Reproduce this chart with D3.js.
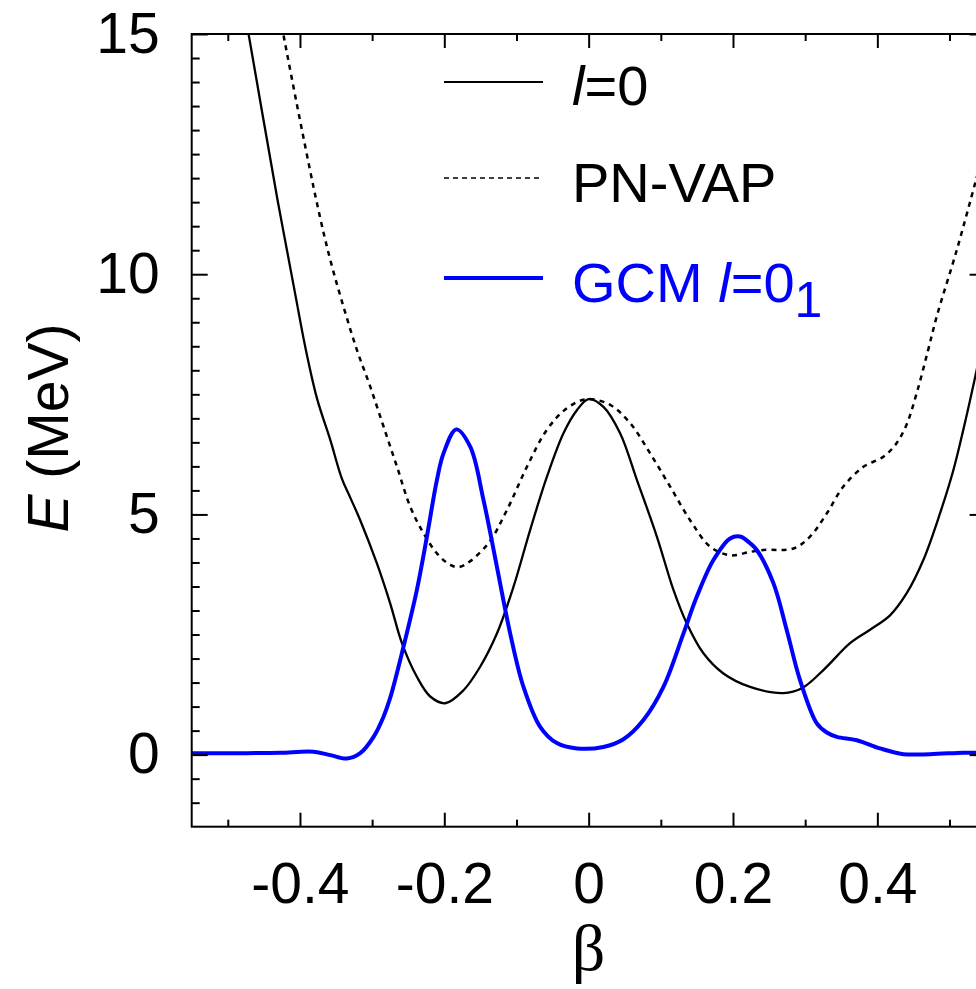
<!DOCTYPE html>
<html>
<head>
<meta charset="utf-8">
<script src="https://cdn.jsdelivr.net/npm/d3@7"></script>
<style>
  html, body { margin: 0; padding: 0; background: #fff; overflow: hidden; }
  svg { display: block; }
</style>
</head>
<body>
<svg id="chart" width="976" height="989"></svg>
<script>
// ---- data (beta, E in MeV) ----
const betaL0 = [-0.49, -0.4712, -0.431, -0.418, -0.405, -0.3927, -0.3765, -0.358, -0.3418, -0.3303, -0.3165, -0.2934, -0.275, -0.2587, -0.238, -0.2195, -0.1988, -0.1734, -0.1503, -0.1271, -0.1042, -0.081, -0.0579, -0.0349, -0.0163, 0, 0.0205, 0.0436, 0.0668, 0.0945, 0.1175, 0.136, 0.159, 0.1867, 0.2237, 0.27, 0.2953, 0.3252, 0.3622, 0.3899, 0.4176, 0.4407, 0.4637, 0.4868, 0.5053, 0.5191, 0.5367, 0.55];
const energyL0 = [16.6, 15.0, 11.54, 10.5, 9.46, 8.49, 7.42, 6.55, 5.74, 5.35, 4.88, 3.98, 3.15, 2.32, 1.62, 1.21, 1.07, 1.34, 1.83, 2.52, 3.49, 4.68, 5.78, 6.69, 7.17, 7.4, 7.24, 6.69, 5.72, 4.54, 3.43, 2.73, 2.11, 1.69, 1.41, 1.28, 1.38, 1.76, 2.32, 2.6, 2.9, 3.36, 4.05, 5.02, 5.92, 6.76, 7.94, 8.9];

const betaVAP = [-0.44, -0.4231, -0.3765, -0.358, -0.3396, -0.321, -0.3026, -0.2842, -0.2657, -0.2472, -0.2288, -0.2102, -0.1918, -0.178, -0.141, -0.1133, -0.0856, -0.0579, -0.0302, -0.0025, 0.0298, 0.0575, 0.0852, 0.1129, 0.1406, 0.1683, 0.196, 0.2237, 0.2421, 0.2837, 0.3068, 0.3299, 0.3529, 0.3806, 0.4083, 0.425, 0.44, 0.455, 0.47, 0.4823, 0.51, 0.5367, 0.55];
const energyVAP = [16.4, 15.0, 11.48, 10.3, 9.32, 8.42, 7.66, 6.83, 6.0, 5.16, 4.61, 4.19, 3.95, 3.91, 4.36, 5.09, 5.99, 6.76, 7.21, 7.4, 7.28, 6.9, 6.27, 5.58, 4.88, 4.33, 4.15, 4.22, 4.26, 4.29, 4.54, 5.02, 5.58, 5.99, 6.2, 6.45, 6.85, 7.55, 8.4, 9.12, 10.5, 11.96, 12.7];

const betaGCM = [-0.55, -0.4734, -0.4273, -0.3812, -0.358, -0.3349, -0.3165, -0.298, -0.2842, -0.275, -0.2565, -0.238, -0.2241, -0.2102, -0.2011, -0.1835, -0.1641, -0.1457, -0.1271, -0.1087, -0.0903, -0.0672, -0.044, -0.0163, 0.0205, 0.0482, 0.0759, 0.1036, 0.1313, 0.1499, 0.1729, 0.196, 0.2098, 0.2237, 0.233, 0.256, 0.2745, 0.2929, 0.3161, 0.33, 0.3438, 0.3715, 0.4037, 0.436, 0.473, 0.5191, 0.5367, 0.55];
const energyGCM = [0.03, 0.03, 0.04, 0.06, -0.01, -0.08, 0.03, 0.37, 0.79, 1.18, 2.25, 3.43, 4.54, 5.72, 6.27, 6.77, 6.41, 5.3, 3.91, 2.52, 1.41, 0.58, 0.24, 0.13, 0.16, 0.32, 0.72, 1.41, 2.52, 3.29, 4.05, 4.5, 4.54, 4.4, 4.26, 3.57, 2.59, 1.55, 0.65, 0.46, 0.37, 0.3, 0.13, 0.01, 0.01, 0.04, 0.04, 0.04];

const xMajorTicks = [-0.4, -0.2, 0, 0.2, 0.4];
const xMinorTicks = [-0.5, -0.3, -0.1, 0.1, 0.3, 0.5];
const yMajorTicks = [0, 5, 10, 15];
const yMinorTicks = [-1, -0.5, 0.5, 1, 1.5, 2, 2.5, 3, 3.5, 4, 4.5, 5.5, 6, 6.5, 7, 7.5, 8, 8.5, 9, 9.5, 10.5, 11, 11.5, 12, 12.5, 13, 13.5, 14, 14.5];
const xTickLabels = ["-0.4", "-0.2", "0", "0.2", "0.4"];
const yTickLabels = ["0", "5", "10", "15"];

// ---- layout ----
const svg = d3.select("#chart");
const L = 191.7, R = 985.6, T = 34, B = 826.7;
const x = d3.scaleLinear().domain([-0.55, 0.55]).range([L, R]);
const y = d3.scaleLinear().domain([-1.5, 15]).range([B, T]);
const FONT = "'Liberation Sans', Arial, Helvetica, sans-serif";
const FS = 57;

svg.append("defs").append("clipPath").attr("id", "plotclip")
  .append("rect").attr("x", L).attr("y", T).attr("width", R - L).attr("height", B - T);

// curves
const line = d3.line().x(d => x(d[0])).y(d => y(d[1])).curve(d3.curveCatmullRom.alpha(0.5));
const plot = svg.append("g").attr("clip-path", "url(#plotclip)");
plot.append("path").datum(d3.zip(betaVAP, energyVAP))
  .attr("d", line).attr("fill", "none").attr("stroke", "#000")
  .attr("stroke-width", 2.5).attr("stroke-dasharray", "5,5");
plot.append("path").datum(d3.zip(betaL0, energyL0))
  .attr("d", line).attr("fill", "none").attr("stroke", "#000").attr("stroke-width", 2.3);
plot.append("path").datum(d3.zip(betaGCM, energyGCM))
  .attr("d", line).attr("fill", "none").attr("stroke", "#0000ff").attr("stroke-width", 4);

// axes: ticks inward on all 4 sides
function styleAxis(g) {
  g.select(".domain").remove();
  g.selectAll(".tick line").attr("stroke", "#000").attr("stroke-width", 2);
  g.selectAll("text").attr("font-family", FONT).attr("font-size", FS).attr("fill", "#000");
}
const xi = (v) => xTickLabels[xMajorTicks.indexOf(v)];
const yi = (v) => yTickLabels[yMajorTicks.indexOf(v)];

svg.append("g").attr("transform", `translate(0,${B})`)
  .call(d3.axisBottom(x).tickValues(xMajorTicks).tickSize(-14).tickSizeOuter(0).tickPadding(36).tickFormat(xi))
  .call(styleAxis);
svg.append("g").attr("transform", `translate(0,${B})`)
  .call(d3.axisBottom(x).tickValues(xMinorTicks).tickSize(-7).tickSizeOuter(0).tickFormat(""))
  .call(styleAxis);
svg.append("g").attr("transform", `translate(0,${T})`)
  .call(d3.axisTop(x).tickValues(xMajorTicks).tickSize(-14).tickSizeOuter(0).tickFormat(""))
  .call(styleAxis);
svg.append("g").attr("transform", `translate(0,${T})`)
  .call(d3.axisTop(x).tickValues(xMinorTicks).tickSize(-7).tickSizeOuter(0).tickFormat(""))
  .call(styleAxis);

svg.append("g").attr("transform", `translate(${L},0)`)
  .call(d3.axisLeft(y).tickValues(yMajorTicks).tickSize(-16).tickSizeOuter(0).tickPadding(32).tickFormat(yi))
  .call(styleAxis);
svg.append("g").attr("transform", `translate(${L},0)`)
  .call(d3.axisLeft(y).tickValues(yMinorTicks).tickSize(-8).tickSizeOuter(0).tickFormat(""))
  .call(styleAxis);
svg.append("g").attr("transform", `translate(${R},0)`)
  .call(d3.axisRight(y).tickValues(yMajorTicks).tickSize(-16).tickSizeOuter(0).tickFormat(""))
  .call(styleAxis);
svg.append("g").attr("transform", `translate(${R},0)`)
  .call(d3.axisRight(y).tickValues(yMinorTicks).tickSize(-8).tickSizeOuter(0).tickFormat(""))
  .call(styleAxis);

// frame
svg.append("rect").attr("x", L).attr("y", T).attr("width", R - L).attr("height", B - T)
  .attr("fill", "none").attr("stroke", "#000").attr("stroke-width", 2);

// axis titles
const yl = svg.append("text").attr("transform", "translate(68,428) rotate(-90)")
  .attr("text-anchor", "middle").attr("font-family", FONT).attr("font-size", FS).attr("fill", "#000");
yl.append("tspan").attr("font-style", "italic").text("E");
yl.append("tspan").text(" (MeV)");

svg.append("text").attr("x", x(0)).attr("y", 970).attr("text-anchor", "middle")
  .attr("font-family", "'Liberation Serif', 'Times New Roman', serif").attr("font-size", 66)
  .attr("fill", "#000").text("β");

// legend
const lg = svg.append("g");
const LX1 = 444, LX2 = 543, TX = 572;
lg.append("line").attr("x1", LX1).attr("x2", LX2).attr("y1", 82).attr("y2", 82)
  .attr("stroke", "#000").attr("stroke-width", 2);
lg.append("line").attr("x1", LX1).attr("x2", LX2).attr("y1", 178).attr("y2", 178)
  .attr("stroke", "#000").attr("stroke-width", 1.5).attr("stroke-dasharray", "5,4");
lg.append("line").attr("x1", LX1).attr("x2", LX2).attr("y1", 278).attr("y2", 278)
  .attr("stroke", "#0000ff").attr("stroke-width", 4);

const t1 = lg.append("text").attr("x", TX).attr("y", 105).attr("font-family", FONT).attr("font-size", 56).attr("fill", "#000");
t1.append("tspan").attr("font-style", "italic").text("l");
t1.append("tspan").text("=0");
lg.append("text").attr("x", TX).attr("y", 201.7).attr("font-family", FONT).attr("font-size", 56).attr("fill", "#000").text("PN-VAP");
const t3 = lg.append("text").attr("x", TX).attr("y", 301.5).attr("font-family", FONT).attr("font-size", 56).attr("fill", "#0000ff");
t3.append("tspan").text("GCM ");
t3.append("tspan").attr("font-style", "italic").text("l");
t3.append("tspan").text("=0");
t3.append("tspan").attr("font-size", 50).attr("dy", 15).text("1");
</script>
</body>
</html>
